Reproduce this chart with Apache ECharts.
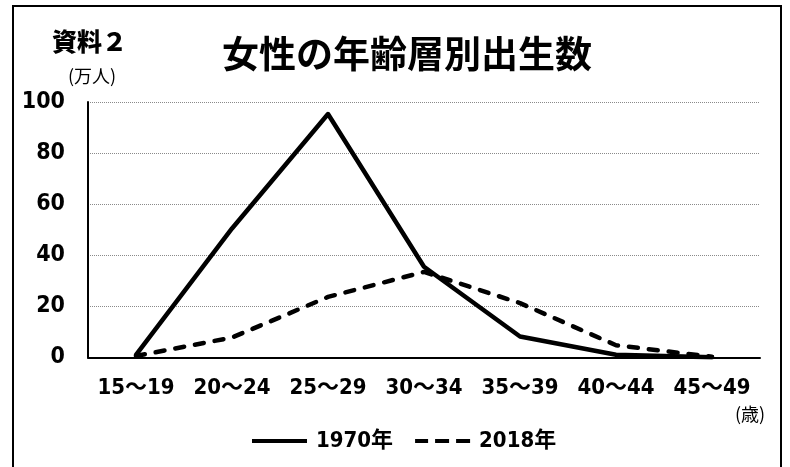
<!DOCTYPE html>
<html>
<head>
<meta charset="utf-8">
<script src="https://cdn.jsdelivr.net/npm/echarts@6/dist/echarts.min.js"></script>
<style>html,body{margin:0;padding:0;background:#fff;}#c{width:790px;height:467px;}</style>
</head>
<body>
<div id="c"></div>
<script>
var categories = ['15～19', '20～24', '25～29', '30～34', '35～39', '40～44', '45～49'];
var births1970 = [1.0, 50.5, 95.3, 35.5, 8.2, 1.1, 0.1];
var births2018 = [0.6, 7.8, 23.7, 33.5, 21.3, 4.8, 0.3];
var seriesNames = ['1970年', '2018年'];
var titleText = '女性の年齢層別出生数';
var labelFont = "'DejaVu Sans Condensed', 'Noto Sans CJK JP', sans-serif";
var cjkFont = "'Noto Sans CJK JP', sans-serif";

var chart = echarts.init(document.getElementById('c'), null, {renderer: 'canvas'});
chart.setOption({
  animation: false,
  backgroundColor: '#fff',
  title: {
    text: titleText,
    left: 402, top: 30, textAlign: 'center',
    textStyle: {fontFamily: cjkFont, fontSize: 37, fontWeight: 'bold', color: '#000'}
  },
  grid: {left: 88, right: 30, top: 102, bottom: 109.5, containLabel: false},
  legend: {
    left: 247, top: 425,
    itemWidth: 55, itemHeight: 4, itemGap: 22,
    data: [
      {name: seriesNames[0], icon: 'path://M0,0H55V4H0Z'},
      {name: seriesNames[1], icon: 'path://M0,0H13V4H0Z M20,0H34V4H20Z M41,0H55V4H41Z'}
    ],
    itemStyle: {color: '#000', borderWidth: 0},
    textStyle: {fontFamily: labelFont, fontSize: 22, fontWeight: 'bold', color: '#000', padding: [0, 0, 0, 4]}
  },
  xAxis: {
    type: 'category', data: categories, boundaryGap: true,
    axisLine: {show: true, lineStyle: {color: '#000', width: 2}},
    axisTick: {show: false},
    axisLabel: {interval: 0, margin: 20, color: '#000', fontFamily: labelFont, fontSize: 22, fontWeight: 'bold'}
  },
  yAxis: {
    type: 'value', min: 0, max: 100, interval: 20,
    axisLine: {show: true, lineStyle: {color: '#000', width: 2}},
    axisTick: {show: false},
    axisLabel: {margin: 23, color: '#000', fontFamily: labelFont, fontSize: 23, fontWeight: 'bold'},
    splitLine: {show: true, lineStyle: {color: '#8a8a8a', width: 1, type: [1, 1]}}
  },
  series: [
    {name: seriesNames[0], type: 'line', data: births1970, symbol: 'none',
     lineStyle: {color: '#000', width: 4.5, cap: 'round', join: 'round'}, itemStyle: {color: '#000'}},
    {name: seriesNames[1], type: 'line', data: births2018, symbol: 'none',
     lineStyle: {color: '#000', width: 4.5, type: [9, 11], cap: 'round', join: 'round'}, itemStyle: {color: '#000'}}
  ],
  graphic: [
    {type: 'rect', shape: {x: 13, y: 6, width: 768, height: 470}, style: {fill: 'none', stroke: '#000', lineWidth: 2}, silent: true},
    {type: 'text', left: 52, top: 29, style: {text: '資料２', font: "900 25px 'Noto Sans CJK JP', sans-serif", fill: '#000'}},
    {type: 'text', left: 68, top: 67, style: {text: '(万人)', font: "18px 'Noto Sans CJK JP', sans-serif", fill: '#000'}},
    {type: 'text', left: 735, top: 405, style: {text: '(歳)', font: "18px 'Noto Sans CJK JP', sans-serif", fill: '#000'}}
  ]
});
</script>
</body>
</html>
